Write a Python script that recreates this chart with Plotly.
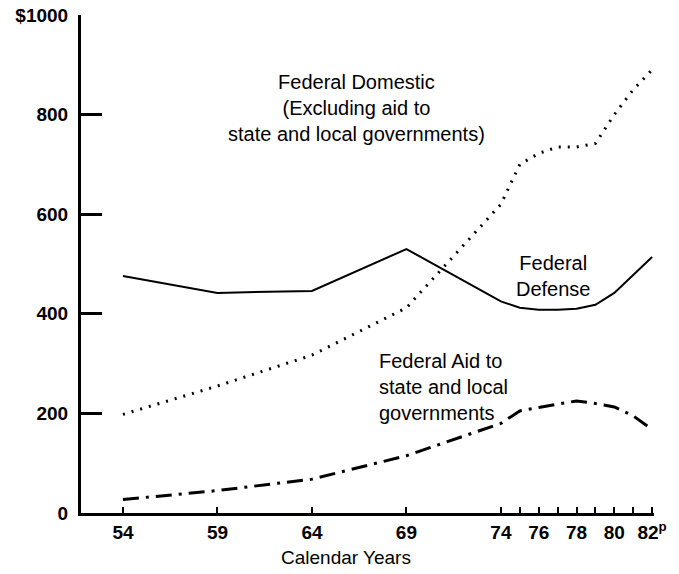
import plotly.graph_objects as go

years = [54, 59, 64, 69, 74, 75, 76, 77, 78, 79, 80, 81, 82]
defense = [476, 442, 446, 530, 425, 412, 408, 408, 410, 418, 442, 478, 514]
domestic = [198, 255, 317, 412, 620, 700, 722, 735, 735, 742, 800, 850, 890]
aid = [27, 45, 68, 115, 180, 205, 212, 218, 225, 220, 213, 195, 168]

x_tickvals = [54, 59, 64, 69, 74, 75, 76, 77, 78, 79, 80, 81, 82]
x_ticktext = ["54", "59", "64", "69", "74", "", "76", "", "78", "", "80", "", "82<sup>p</sup>"]
y_tickvals = [0, 200, 400, 600, 800, 1000]
y_ticktext = ["0", "200", "400", "600", "800", "$1000"]

FONT = "Liberation Sans, Arial, Helvetica, sans-serif"

fig = go.Figure()
fig.add_trace(go.Scatter(x=years, y=defense, mode="lines",
                         line=dict(color="black", width=2), showlegend=False))
fig.add_trace(go.Scatter(x=years, y=domestic, mode="lines",
                         line=dict(color="black", width=3, dash="2px,7px"), showlegend=False))
fig.add_trace(go.Scatter(x=years, y=aid, mode="lines",
                         line=dict(color="black", width=3, dash="16px,7px,3px,7px"), showlegend=False))

L, R, T, B = 81, 25, 15, 61
W, H = 679, 574
pw, ph = W - L - R, H - T - B


def px(xp):
    return (xp - L) / pw


def py(yp):
    return (H - B - yp) / ph


def ann(text, xpx, ypx, align="center", xanchor="center", size=20):
    fig.add_annotation(text=text, x=px(xpx), y=py(ypx), xref="paper", yref="paper",
                       showarrow=False, align=align, xanchor=xanchor, yanchor="middle",
                       font=dict(family=FONT, size=size, color="black"))


ann("Federal Domestic<br>(Excluding aid to<br>state and local governments)", 356, 108)
ann("Federal<br>Defense", 553, 276)
ann("Federal Aid to<br>state and local<br>governments", 377, 387, align="left", xanchor="left")
ann("Calendar Years", 346, 557, size=19)

fig.update_layout(
    width=W, height=H,
    margin=dict(l=L, r=R, t=T, b=B, autoexpand=False),
    paper_bgcolor="white", plot_bgcolor="white",
    font=dict(family=FONT, size=19, color="black"),
    xaxis=dict(range=[51.78, 82.1], tickmode="array", tickvals=x_tickvals, ticktext=x_ticktext,
               ticks="inside", ticklen=6, tickwidth=2, tickcolor="black", automargin=False,
               tickangle=0,
               showline=True, linecolor="black", linewidth=3, showgrid=False, zeroline=False,
               tickfont=dict(family=FONT, size=19, color="black", weight="bold")),
    yaxis=dict(range=[0, 1000], tickmode="array", tickvals=y_tickvals, ticktext=y_ticktext,
               ticks="inside", ticklen=21, tickwidth=3, tickcolor="black", automargin=False,
               showline=True, linecolor="black", linewidth=3, showgrid=False, zeroline=False,
               ticklabelstandoff=6,
               tickfont=dict(family=FONT, size=19, color="black", weight="bold")),
)

fig.write_html("out.html", config={"displayModeBar": False},
               post_script="document.body.style.margin='0';document.body.style.overflow='hidden';")
